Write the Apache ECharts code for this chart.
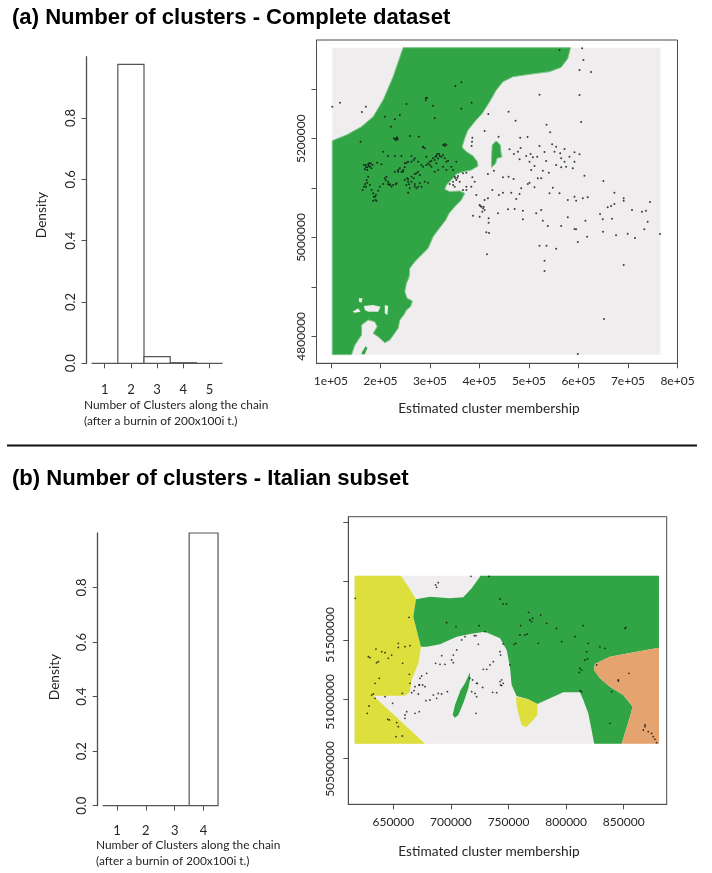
<!DOCTYPE html>
<html>
<head>
<meta charset="utf-8">
<title>Number of clusters</title>
<script src="https://cdn.jsdelivr.net/npm/echarts@6/dist/echarts.min.js"></script>
<style>
html, body { margin: 0; padding: 0; background: #fff; }
#chart { width: 712px; height: 873px; }
</style>
</head>
<body>
<div id="chart"></div>
<script>
// histogram bins: left edge, density
const histBinsA = [0.5, 1.5, 2.5, 3.5, 4.5];
const histDensityA = [0, 0.975, 0.022, 0.002, 0];
const histBinsB = [0.5, 1.5, 2.5, 3.5];
const histDensityB = [0, 0, 0, 1];

const ticksA = [100000, 200000, 300000, 400000, 500000, 600000, 700000, 800000];
const yTicksA = [4800000, 4900000, 5000000, 5100000, 5200000, 5300000];
const yLabelsA = [4800000, 5000000, 5200000];
const ticksB = [650000, 700000, 750000, 800000, 850000];
const yTicksB = [50500000, 51000000, 51500000, 52000000, 52500000];
const yLabelsB = [50500000, 51000000, 51500000];

// map regions, all in km
const backgroundA = [[102.6, 5384.2], [765.3, 5384.2], [765.3, 4762.8], [102.6, 4762.8]];
const mainlandA = [[245.8, 5384.2], [583.8, 5384.2], [578.4, 5362.6], [565, 5344.4], [541.5, 5335.7], [501.1, 5330.3], [467.5, 5325.5], [447.4, 5315.4], [434, 5298.6], [420.5, 5274.9], [405.7, 5251.3], [390.3, 5234.5], [376.8, 5217.6], [370.1, 5200.7], [364.7, 5182.5], [373.5, 5173.7], [386.9, 5165], [395.6, 5153.5], [397, 5144.7], [383.5, 5136.6], [366.7, 5133.3], [353.3, 5128.5], [343.2, 5116.4], [333.1, 5106.3], [329.8, 5097.5], [339.9, 5092.8], [360, 5094.1], [370.1, 5089.4], [363.4, 5075.9], [349.9, 5062.4], [338.5, 5048.9], [331.8, 5035.4], [316.3, 5015.2], [306.3, 5001.7], [296.2, 4978], [282.7, 4964.6], [269.3, 4951.1], [259.2, 4937.6], [257.9, 4920.7], [252.5, 4907.2], [249.1, 4890.3], [253.8, 4876.8], [264.6, 4871.4], [260.6, 4860], [252.5, 4853.2], [247.1, 4843.1], [239.1, 4833], [235.7, 4816.1], [218.9, 4792.5], [208.8, 4787.1], [195.4, 4799.2], [185.3, 4806], [193.4, 4819.5], [188.7, 4829.6], [175.2, 4833], [161.8, 4822.9], [161.8, 4802.6], [148.3, 4782.4], [141.6, 4762.8], [102.6, 4762.8], [102.6, 5196], [131.5, 5207.5], [161.8, 5224.3], [185.3, 5244.6], [205.5, 5278.3], [225.6, 5325.5]];
const islandA = [[425.9, 5187.2], [434, 5195.3], [442, 5187.2], [444, 5167], [446, 5163.6], [435.3, 5160.2], [432.6, 5150.1], [424.5, 5142], [424.5, 5163.6]];
const islandA2 = [[163.1, 4768.9], [170.5, 4780.4], [173.2, 4775.6], [168.5, 4763.5], [161.8, 4763.5]];
const holesA = [
    [[166.5, 4861.3], [185.3, 4863.4], [200.1, 4860], [195.4, 4849.9], [175.2, 4849.9], [168.5, 4853.2]],
    [[156.4, 4876.8], [163.8, 4876.8], [161.8, 4868.1], [156.4, 4870.1]],
    [[208.8, 4863.4], [215.5, 4861.3], [214.2, 4843.1], [208.8, 4846.5]],
    [[143.6, 4849.9], [155.1, 4856.6], [159.8, 4849.9], [148.3, 4847.8]]
];

const backgroundB = [[616.4, 52047.8], [880.6, 52047.8], [880.6, 50623.9], [616.4, 50623.9]];
const yellowB = [[616.4, 52047.8], [656.6, 52047.8], [663, 51954.5], [669.7, 51847.2], [667.3, 51700.3], [670.2, 51587.3], [674, 51446.1], [671.7, 51304.8], [665.9, 51163.5], [664.4, 51064.6], [660.1, 51030.7], [632.6, 51030.7], [677.5, 50623.9], [616.4, 50623.9]];
const greenB = [[725.8, 52047.8], [880.6, 52047.8], [880.6, 51437.6], [861.2, 51403.7], [838, 51361.3], [825, 51299.2], [824.1, 51248.3], [829.3, 51177.7], [838, 51107], [849.6, 51036.4], [857.7, 50937.5], [855.4, 50852.8], [851, 50711.5], [848.2, 50623.9], [824.4, 50623.9], [822.1, 50739.8], [819.2, 50881], [814.9, 50994], [812, 51059], [797.5, 51059], [786, 51008.1], [775, 50960.1], [767.1, 51000], [757, 51027.9], [752.7, 51121.1], [751.2, 51276.5], [748.4, 51417.8], [742.6, 51516.7], [729.5, 51573.2], [716.5, 51553.4], [705, 51530.8], [690.5, 51465.9], [678.9, 51446.1], [674, 51446.1], [670.2, 51587.3], [667.3, 51700.3], [669.7, 51847.2], [681.8, 51869.8], [699.2, 51855.7], [710.7, 51864.2], [718, 51940.4]];
const orangeB = [[880.6, 51437.6], [861.2, 51403.7], [838, 51361.3], [825, 51299.2], [824.1, 51248.3], [829.3, 51177.7], [838, 51107], [849.6, 51036.4], [857.7, 50937.5], [855.4, 50852.8], [851, 50711.5], [848.2, 50623.9], [880.6, 50623.9]];
const yellowSmallB = [[756.5, 51022.3], [767.1, 50999.7], [775, 50960.1], [775, 50866.9], [770, 50810.4], [765.1, 50762.4], [761.4, 50782.1], [758.5, 50881], [757, 50951.6]];
const islandB = [[716.5, 51228.5], [712.2, 51135.3], [708.4, 51078.8], [703.5, 50951.6], [701.5, 50866.9], [703.5, 50844.3], [706.4, 50866.9], [710.7, 50965.8], [715.1, 51092.9], [716.5, 51163.5]];

// observations, km
const pointsA = [[607.3, 5382.9], [610, 5359.3], [602, 5339], [625.5, 5335], [521.3, 5289.1], [602, 5288.4], [605.3, 5233.8], [535.4, 5228.4], [542.8, 5212.9], [458.8, 5254.7], [417.8, 5250], [472.9, 5236.5], [410.4, 5215.6], [482.3, 5202.1], [497.1, 5203.4], [438.6, 5204.1], [385.6, 5202.1], [384.9, 5194], [384.2, 5185.2], [521.3, 5185.2], [546.8, 5188.6], [554.9, 5183.9], [571.7, 5179.1], [591.9, 5172.4], [602, 5168.3], [460.8, 5178.5], [483, 5181.2], [477.6, 5173.7], [469.6, 5169], [494.4, 5165], [503.2, 5169], [507.9, 5162.3], [516.6, 5163.6], [531.4, 5173], [551.5, 5173.7], [563, 5170.4], [581.8, 5163.6], [565, 5160.2], [571.7, 5153.5], [591.9, 5153.5], [481, 5158.2], [501.1, 5153.5], [511.2, 5144.7], [534.7, 5154.8], [554.9, 5146.8], [565, 5142], [575.1, 5143.4], [588.5, 5140], [528, 5135.3], [540.1, 5131.2], [504.5, 5136.6], [612, 5125.2], [650.3, 5114.4], [417.1, 5128.5], [429.2, 5135.3], [447.4, 5121.8], [458.8, 5123.1], [468.9, 5118.4], [501.1, 5111], [517.9, 5119.8], [524.7, 5119.8], [497.8, 5108.3], [511.2, 5101.5], [548.2, 5100.9], [484.3, 5099.5], [464.2, 5090.8], [447.4, 5090.8], [439.3, 5086], [425.9, 5096.1], [417.1, 5079.3], [393.6, 5086], [410.4, 5075.9], [481, 5088.1], [474.3, 5077.9], [541.5, 5089.4], [561.6, 5089.4], [591.9, 5082.7], [578.4, 5075.9], [595.2, 5074.6], [608.7, 5079.3], [618.7, 5081.3], [672.5, 5090.8], [691.3, 5079.3], [691.3, 5074.6], [672.5, 5067.8], [665.8, 5063.8], [659, 5061.1], [708.1, 5055.7], [728.3, 5052.3], [736.3, 5054.3], [744.4, 5071.9], [643.6, 5047.6], [667.8, 5038.1], [649, 5036.8], [739.7, 5032.1], [457.5, 5057], [471, 5057.7], [487.7, 5054.3], [437.3, 5048.9], [386.9, 5044.2], [400.3, 5042.2], [418.5, 5038.8], [418.5, 5030], [487.7, 5036.8], [514.6, 5048.9], [524.7, 5055.7], [528, 5034.1], [538.1, 5023.3], [565, 5023.3], [578.4, 5040.8], [614, 5034.1], [591.9, 5017.2], [595.2, 5016.5], [733, 5016.5],
    [400.3, 5065.8], [403.7, 5062.4], [407.1, 5059], [410.4, 5055.7], [405.7, 5052.3], [401.7, 5063.8], [408.4, 5062.4],
    [349.9, 5123.1], [356.7, 5124.5], [353.3, 5116.4], [346.6, 5113], [360, 5113], [366.7, 5129.9], [373.5, 5131.2], [390.3, 5113], [383.5, 5102.9], [373.5, 5102.9], [366.7, 5096.1], [349.9, 5102.9], [346.6, 5106.3], [339.9, 5108.3], [373.5, 5096.1], [385.6, 5121.8], [351.3, 5119.8], [355.3, 5121.1],
    [413.8, 5010.4], [419.2, 5009.1], [649.7, 5011.8], [675.9, 5004.4], [699.4, 5007.7], [714.2, 4999], [764.6, 5007], [617.4, 5001.7], [598.6, 4990.9], [521.3, 4983.4], [535.4, 4983.4], [554.9, 4977.4], [415.1, 4965.9], [531.4, 4953.1], [531.4, 4932.2], [691.3, 4944.3], [651.7, 4835], [598.6, 4764.2],
    [561.6, 5379.5], [363.4, 5314.1], [351.3, 5306.7], [291.5, 5281.7], [294.2, 5283], [118.1, 5272.9], [102.6, 5264.8], [170.5, 5264.8], [162.5, 5254], [252.5, 5270.2], [306.3, 5266.8], [363.4, 5260.8], [384.2, 5272.9], [208.8, 5244.6], [229, 5239.2], [239.1, 5248], [309.6, 5241.2], [220.9, 5224.3], [232.3, 5200.7], [229.7, 5198.7], [233.7, 5202.7], [159.8, 5194], [259.2, 5205.4], [277.4, 5204.1], [286.1, 5183.9], [289.5, 5180.5], [329.8, 5189.3], [333.1, 5187.2], [205.5, 5173.7], [215.5, 5165],
    [166.5, 5146.8], [170.5, 5142], [175.2, 5148.1], [178.6, 5143.4], [173.2, 5136.6], [181.9, 5140], [193.4, 5151.5], [202.1, 5148.1], [168.5, 5138], [177.2, 5150.1], [183.9, 5146.8], [163.8, 5096.1], [166.5, 5102.9], [169.2, 5108.3], [171.9, 5116.4], [175.2, 5123.1], [178.6, 5106.3], [181.9, 5096.1], [185.3, 5089.4], [188.7, 5082.7], [185.3, 5074.6], [192, 5074.6], [190.7, 5086], [195.4, 5094.8], [198.7, 5102.9], [205.5, 5108.3], [208.8, 5119.8], [212.2, 5123.1], [215.5, 5113], [218.9, 5106.3], [225.6, 5106.3], [232.3, 5109.6], [239.1, 5140], [245.8, 5136.6], [235.7, 5133.3], [229, 5133.3], [249.1, 5150.1], [255.9, 5153.5], [262.6, 5165], [269.3, 5160.2], [276, 5153.5], [282.7, 5146.8], [292.8, 5146.8], [299.5, 5153.5], [306.3, 5160.2], [313, 5165], [318.4, 5169], [323, 5163.6], [329.8, 5160.2], [336.5, 5155.5], [309.6, 5156.9], [249.1, 5116.4], [255.9, 5117.7], [262.6, 5123.1], [269.3, 5128.5], [276, 5133.3], [252.5, 5106.3], [259.2, 5099.5], [255.9, 5090.8], [269.3, 5108.3], [276, 5102.9], [282.7, 5102.9], [289.5, 5113], [296.2, 5111], [309.6, 5133.3], [316.3, 5136.6], [302.9, 5143.4], [313, 5150.1], [229, 5165], [242.4, 5165], [346.6, 5136.6], [343.2, 5143.4], [353.3, 5153.5], [333.1, 5136.6], [326.4, 5143.4],
    [218.9, 5108], [222.3, 5103], [215.5, 5107.6], [231, 5107.6], [210.8, 5116], [255.9, 5113], [253.8, 5120], [257.9, 5108], [262.6, 5113], [267.3, 5120], [272.7, 5130], [279.4, 5126.5], [286.1, 5143], [296.2, 5150], [302.9, 5155.5], [311, 5163.6], [316.3, 5160], [319.7, 5165], [314.3, 5169], [326.4, 5167], [170.5, 5146.8], [173.2, 5142], [176.6, 5144.7], [180.6, 5150], [170.5, 5102.9], [173.2, 5111], [186.6, 5082.7], [190, 5076], [249.1, 5142], [262.6, 5153.5], [267.3, 5156.9], [231, 5197], [235, 5198.7], [227, 5200.7], [291.5, 5278], [286.1, 5182.5], [326.4, 5187], [329.8, 5185], [272.7, 5099.5], [269.3, 5103], [279.4, 5109.6], [245.8, 5133], [235.7, 5136.6], [242.4, 5133], [252.5, 5151.5], [292.8, 5163.6], [299.5, 5146.8], [333.1, 5153.5]];

const pointsB = [[717.4, 52042], [733, 52042], [686.7, 51969], [689, 51988], [687.6, 51949], [617, 51856], [742.6, 51850], [745.4, 51808], [748.3, 51808], [663.6, 51695], [696.3, 51649], [704.4, 51616], [724.6, 51624], [729.5, 51573], [768.6, 51672], [770, 51658], [770.9, 51686], [767.4, 51737], [777.9, 51714], [783.1, 51644], [791.7, 51601], [814.9, 51624], [851.9, 51610], [760.5, 51624], [764.3, 51545], [766.3, 51553], [759.9, 51545], [756.4, 51474], [754.7, 51466], [775.8, 51474], [796.1, 51488], [829.3, 51446], [833.7, 51432], [817.8, 51404], [816.3, 51333], [818.6, 51342], [811.4, 51228], [813.4, 51248], [826.5, 51291], [845.3, 51155], [854.5, 51220], [807.7, 51531], [712.2, 51531], [709.3, 51503], [720.3, 51539], [721.7, 51539], [723.8, 51466], [745.4, 51469], [742.6, 51404], [743.1, 51375], [702.1, 51375], [705, 51418], [700.6, 51333], [702.1, 51310], [692, 51370], [686.7, 51305], [690.5, 51296], [694.8, 51296], [733.9, 51291], [736.8, 51319], [731, 51254], [728.1, 51254], [628.3, 51361], [629.7, 51353], [635.5, 51310], [637, 51319], [634.9, 51426], [639.9, 51404], [642.8, 51395], [645.6, 51347], [654.3, 51474], [654.3, 51440], [660.1, 51446], [664.4, 51455], [648.5, 51375], [658.1, 51305], [663.9, 51212], [637.8, 51178], [634.1, 51135], [664.4, 51135], [674.6, 51198], [673.1, 51178], [678.9, 51220], [672.5, 51121], [675.4, 51121], [668.8, 51107], [716.5, 51178], [718.8, 51164], [722.3, 51135], [742.6, 51150], [744, 51116], [751.2, 51291], [819.2, 51474], [851, 51601], [812, 51262],
    [631.2, 51036], [632.6, 51045], [628.9, 50943], [627.4, 50881], [634.1, 51008], [642.8, 51022], [649.4, 50966], [645.1, 50830], [646.5, 50825], [652.9, 50802], [654.3, 50768], [652.3, 50683], [657.8, 50689], [660.1, 50867], [660.1, 50839], [661.6, 50895], [668.8, 50881], [672.5, 50895], [672.5, 51121], [677.5, 51107], [667.9, 51073], [671.7, 51045], [657.8, 51050], [684.7, 51036], [689, 51050], [691.9, 51045], [696.9, 51065], [687.6, 51008], [681.8, 50994], [678.3, 50988], [665.9, 51056], [718, 51065], [720.9, 51050], [721.7, 50881], [722.3, 51022], [727.5, 51101], [722.9, 51135], [736.2, 51059], [739.7, 51056], [743.1, 51121], [745.4, 51135], [744, 51164], [812, 51073], [813.4, 51065], [838, 50796], [839.5, 51065], [868.4, 50768], [867, 50740], [871.3, 50726], [874.2, 50711], [875.6, 50683], [877.1, 50661], [878.5, 50632], [868.4, 50782], [845.3, 51164]];

const GREY = '#efeded';
const GREEN = '#31a545';
const YELLOW = '#dde03c';
const ORANGE = '#e5a46f';
const AXIS = '#4d4d4d';
const TEXT = '#262626';
const FONT = 'Lato';

const toMetres = (pts) => pts.map((p) => [p[0] * 1000, p[1] * 1000]);

function polygonSeries(pts, color, grid, edge) {
    const metres = toMetres(pts);
    return {
        type: 'custom',
        xAxisIndex: grid,
        yAxisIndex: grid,
        silent: true,
        data: [metres[0]],
        renderItem: (params, api) => ({
            type: 'polygon',
            shape: { points: metres.map((p) => api.coord(p)) },
            style: { fill: color, stroke: edge || null, lineWidth: edge ? 1 : 0 }
        })
    };
}

function pointSeries(pts, grid, size) {
    return {
        type: 'scatter',
        xAxisIndex: grid,
        yAxisIndex: grid,
        silent: true,
        symbolSize: size,
        itemStyle: { color: '#111' },
        data: toMetres(pts)
    };
}

function histSeries(bins, density, grid) {
    return {
        type: 'custom',
        xAxisIndex: grid,
        yAxisIndex: grid,
        silent: true,
        data: bins.map((b, i) => [b, b + 1, density[i]]),
        renderItem: (params, api) => {
            const a = api.coord([api.value(0), api.value(2)]);
            const b = api.coord([api.value(1), 0]);
            return {
                type: 'rect',
                shape: { x: a[0], y: a[1], width: b[0] - a[0], height: b[1] - a[1] },
                style: { fill: '#fff', stroke: '#555', lineWidth: 1.2 }
            };
        }
    };
}

const labelStyle = { color: TEXT, fontFamily: FONT, fontSize: 12 };
const lineStyle = { color: AXIS, width: 1 };
const tickStyle = { show: true, length: 5, lineStyle: lineStyle };

function histX(grid, max, offset) {
    return { gridIndex: grid, type: 'value', min: 1, max: max, interval: 1, offset: offset, splitLine: { show: false },
        axisLine: { show: true, lineStyle: lineStyle }, axisTick: tickStyle, axisLabel: Object.assign({}, labelStyle, { margin: 8, fontSize: 13, showMinLabel: true, showMaxLabel: true }) };
}

function histY(grid, offset) {
    return { gridIndex: grid, type: 'value', min: 0, max: 1, interval: 0.2, offset: offset, splitLine: { show: false },
        axisLine: { show: true, lineStyle: { color: AXIS, width: 1.3 } }, axisTick: tickStyle,
        axisLabel: Object.assign({}, labelStyle, { fontSize: 13, rotate: 90, margin: 9, showMinLabel: true, showMaxLabel: false, formatter: (v) => v.toFixed(1) }) };
}

function mapX(grid, min, max, ticks, formatter, margin) {
    return { gridIndex: grid, type: 'value', min: min, max: max, splitLine: { show: false },
        axisLine: { show: true, lineStyle: lineStyle },
        axisTick: Object.assign({ customValues: ticks }, tickStyle),
        axisLabel: Object.assign({}, labelStyle, { customValues: ticks, margin: margin, formatter: formatter, hideOverlap: false }) };
}

function mapY(grid, min, max, ticks, labels) {
    return { gridIndex: grid, type: 'value', min: min, max: max, splitLine: { show: false },
        axisLine: { show: true, lineStyle: lineStyle },
        axisTick: Object.assign({ customValues: ticks }, tickStyle),
        axisLabel: Object.assign({}, labelStyle, { show: !!labels, customValues: labels || ticks, rotate: 90, margin: 9, formatter: (v) => String(v) }) };
}

const sciFormat = (v) => (v / 100000) + 'e+05';

function caption(text, x, y, align, rotate, font, fill) {
    return {
        type: 'text',
        x: x,
        y: y,
        rotation: rotate ? Math.PI / 2 : 0,
        silent: true,
        style: { text: text, fill: fill || TEXT, font: font || ('13.7px ' + FONT), textAlign: align, textVerticalAlign: 'middle', lineHeight: 16 }
    };
}

const titleFont = 'bold 22.1px "Liberation Sans"';
const chainFont = '11.9px ' + FONT;
const chainLabel = 'Number of Clusters along the chain\n(after a burnin of 200x100i t.)';

const chart = echarts.init(document.getElementById('chart'), null, { renderer: 'canvas' });
chart.setOption({
    animation: false,
    backgroundColor: '#fff',
    grid: [
        { left: 104.7, top: 56.7, width: 104.8, height: 306.6 },
        { left: 316.5, top: 40, width: 361, height: 323.3, show: true, borderColor: AXIS, borderWidth: 1, backgroundColor: 'transparent' },
        { left: 117, top: 533, width: 86.6, height: 272.7 },
        { left: 348.3, top: 516.7, width: 318.4, height: 287.6, show: true, borderColor: AXIS, borderWidth: 1, backgroundColor: 'transparent' }
    ],
    xAxis: [
        histX(0, 5, 12.2),
        mapX(1, 70800, 800000, ticksA, sciFormat, 11.5),
        histX(2, 4, 11),
        mapX(3, 610900, 887300, ticksB, (v) => String(v), 12)
    ],
    yAxis: [
        histY(0, 18.2),
        mapY(1, 4745300, 5399800, yTicksA, yLabelsA),
        histY(2, 19.3),
        mapY(3, 50110100, 52547500, yTicksB, null),
        // labels of the lower map sit apart from its ticks, so they get an axis of their own
        { gridIndex: 3, type: 'value', position: 'left', min: 50236500, max: 52382900, splitLine: { show: false }, axisLine: { show: false }, axisTick: { show: false },
            axisLabel: Object.assign({}, labelStyle, { customValues: yLabelsB, rotate: 90, margin: 12, formatter: (v) => String(v) }) }
    ],
    series: [
        histSeries(histBinsA, histDensityA, 0),
        polygonSeries(backgroundA, GREY, 1),
        polygonSeries(mainlandA, GREEN, 1, '#7cc484'),
        ...holesA.map((h) => polygonSeries(h, GREY, 1)),
        polygonSeries(islandA, GREEN, 1, '#7cc484'),
        polygonSeries(islandA2, GREEN, 1),
        pointSeries(pointsA, 1, 2),
        histSeries(histBinsB, histDensityB, 2),
        polygonSeries(backgroundB, GREY, 3),
        polygonSeries(yellowB, YELLOW, 3),
        polygonSeries(greenB, GREEN, 3),
        polygonSeries(orangeB, ORANGE, 3),
        polygonSeries(yellowSmallB, YELLOW, 3),
        polygonSeries(islandB, GREEN, 3),
        pointSeries(pointsB, 3, 1.8)
    ],
    graphic: [
        caption('(a) Number of clusters - Complete dataset', 12, 17.5, 'left', false, titleFont, '#000'),
        caption('(b) Number of clusters - Italian subset', 12, 479, 'left', false, titleFont, '#000'),
        caption('Density', 42, 215, 'center', true),
        caption('Density', 55, 677, 'center', true),
        caption(chainLabel, 84, 413, 'left', false, chainFont),
        caption(chainLabel, 96, 853, 'left', false, chainFont),
        caption('Estimated cluster membership', 489, 409, 'center'),
        caption('Estimated cluster membership', 489, 852, 'center'),
        { type: 'line', silent: true, shape: { x1: 7, y1: 445.5, x2: 697, y2: 445.5 }, style: { stroke: '#111', lineWidth: 2 } }
    ]
});
</script>
</body>
</html>
